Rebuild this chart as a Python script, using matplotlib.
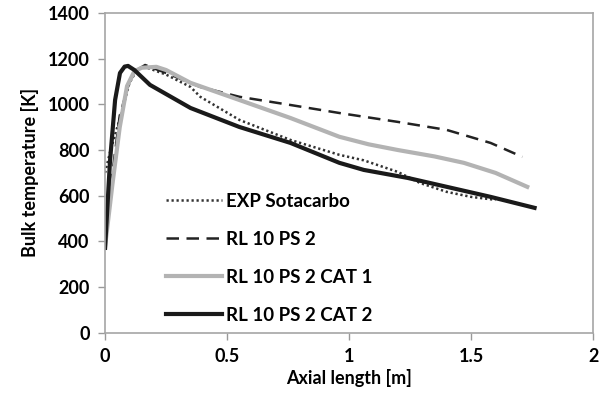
import matplotlib
matplotlib.use("Agg")
import matplotlib.pyplot as plt

# values
exp_x = [0.0, 0.02, 0.05, 0.074, 0.10, 0.13, 0.16, 0.25, 0.35, 0.39, 0.55, 0.76, 0.96, 1.06, 1.20, 1.29, 1.40, 1.50, 1.60]
exp_y = [700, 790, 900, 990, 1094, 1150, 1165, 1130, 1076, 1033, 932, 844, 779, 755, 704, 656, 617, 595, 582]

ps2_x = [0.0, 0.03, 0.06, 0.10, 0.13, 0.164, 0.27, 0.39, 0.55, 0.76, 0.96, 1.20, 1.40, 1.58, 1.71]
ps2_y = [380, 700, 950, 1100, 1150, 1172, 1129, 1076, 1033, 997, 962, 923, 888, 831, 770]

cat1_x = [0.0, 0.03, 0.06, 0.09, 0.12, 0.15, 0.21, 0.25, 0.35, 0.55, 0.76, 0.96, 1.08, 1.20, 1.35, 1.47, 1.60, 1.73]
cat1_y = [380, 650, 900, 1080, 1145, 1160, 1164, 1150, 1094, 1019, 940, 858, 825, 800, 772, 744, 700, 639]

cat2_x = [0.0, 0.02, 0.041, 0.061, 0.08, 0.094, 0.12, 0.184, 0.35, 0.55, 0.76, 0.96, 1.06, 1.24, 1.40, 1.58, 1.76]
cat2_y = [372, 750, 1019, 1137, 1165, 1168, 1150, 1085, 984, 901, 831, 744, 713, 678, 639, 595, 547]

x_ticks = [0, 0.5, 1, 1.5, 2]
x_tick_labels = ["0", "0.5", "1", "1.5", "2"]
y_ticks = [0, 200, 400, 600, 800, 1000, 1200, 1400]

plt.rcParams["font.family"] = ["Lato", "DejaVu Sans"]
plt.rcParams["font.weight"] = "bold"

fig = plt.figure(figsize=(6.04, 4.03), dpi=100)
ax = fig.add_axes([0.174, 0.174, 0.808, 0.794])

ax.plot(exp_x, exp_y, color="#333333", lw=1.8, ls=(0, (0.9, 1.1)), label="EXP Sotacarbo")
ax.plot(ps2_x, ps2_y, color="#222222", lw=1.8, ls=(0, (5, 3)), label="RL 10 PS 2")
ax.plot(cat1_x, cat1_y, color="#b3b3b3", lw=3.0, label="RL 10 PS 2 CAT 1")
ax.plot(cat2_x, cat2_y, color="#1a1a1a", lw=3.0, label="RL 10 PS 2 CAT 2")

ax.set_xlim(0, 2)
ax.set_ylim(0, 1400)
ax.set_xticks(x_ticks)
ax.set_xticklabels(x_tick_labels)
ax.set_yticks(y_ticks)
ax.tick_params(axis="both", labelsize=13, length=5, width=1, color="#999999", direction="out", pad=6)
for sp in ax.spines.values():
    sp.set_color("#a6a6a6")
    sp.set_linewidth(1.2)

ax.set_xlabel("Axial length [m]", fontsize=13, fontweight="bold", labelpad=3)
ax.set_ylabel("Bulk temperature [K]", fontsize=13, fontweight="bold", labelpad=6)

ax.legend(loc="lower left", bbox_to_anchor=(0.09, -0.025), frameon=False, fontsize=13.5,
          handlelength=3.0, handletextpad=0.2, labelspacing=1.12)

fig.savefig("out.png", dpi=100)
